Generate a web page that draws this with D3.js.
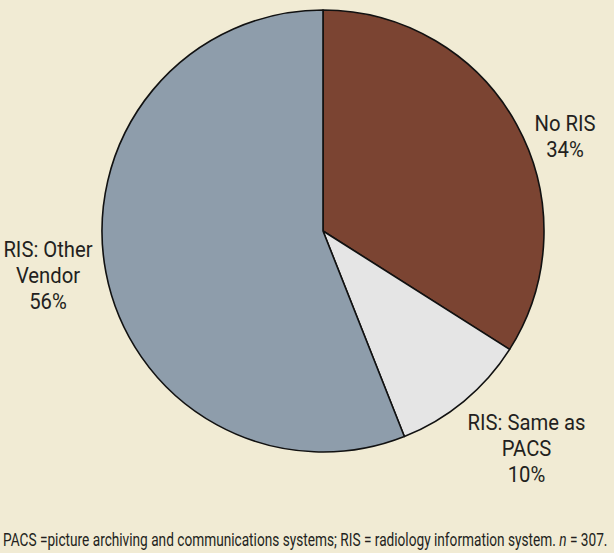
<!DOCTYPE html>
<html>
<head>
<meta charset="utf-8">
<script src="https://cdn.jsdelivr.net/npm/d3@7"></script>
<style>
  html, body { margin: 0; padding: 0; background: #f1ebd4; }
  svg { display: block; }
  text { font-family: "Liberation Sans Narrow", "Arial Narrow", Roboto, sans-serif; fill: #231f20; }
</style>
</head>
<body>
<svg id="chart" width="614" height="553"></svg>
<script>
// Share of sites by RIS arrangement
const categories = ["No RIS", "RIS: Same as PACS", "RIS: Other Vendor"];
const shares = [34, 10, 56];
const labelLines = [["No RIS", "34%"], ["RIS: Same as", "PACS", "10%"], ["RIS: Other", "Vendor", "56%"]];
const colors = ["#7b4432", "#e5e5e5", "#8e9dab"];
const footnote = "PACS =picture archiving and communications systems; RIS = radiology information system. ";

const svg = d3.select("#chart");
const cx = 323, cy = 231, r = 221;

const pie = d3.pie().sort(null).value(d => d)(shares);
const arc = d3.arc().innerRadius(0).outerRadius(r);

const g = svg.append("g").attr("transform", `translate(${cx},${cy})`);
g.selectAll("path").data(pie).join("path")
  .attr("d", arc)
  .attr("fill", (d, i) => colors[i])
  .attr("stroke", "#111")
  .attr("stroke-width", 1.6)
  .attr("stroke-linejoin", "round");

// Label anchors (first baseline) relative to the pie centre; condensed look via x-scale
const labelPos = [[242, -100], [203.5, 199], [-275, 26]];
const lineH = 26;
const squeeze = 0.9;
categories.forEach((c, i) => {
  const t = g.append("text")
    .attr("text-anchor", "middle")
    .attr("font-size", 22.5)
    .attr("transform", `translate(${labelPos[i][0]},${labelPos[i][1]}) scale(${squeeze},1)`);
  labelLines[i].forEach((ln, k) => {
    t.append("tspan").attr("x", 0).attr("dy", k === 0 ? 0 : lineH).text(ln);
  });
});

// Footnote, fitted to the page width
const fn = svg.append("text").attr("font-size", 18);
fn.append("tspan").text(footnote);
fn.append("tspan").attr("font-style", "italic").text("n");
fn.append("tspan").text(" = 307.");
const fnW = fn.node().getComputedTextLength();
fn.attr("transform", `translate(3,546) scale(${605 / fnW},1)`);
</script>
</body>
</html>
